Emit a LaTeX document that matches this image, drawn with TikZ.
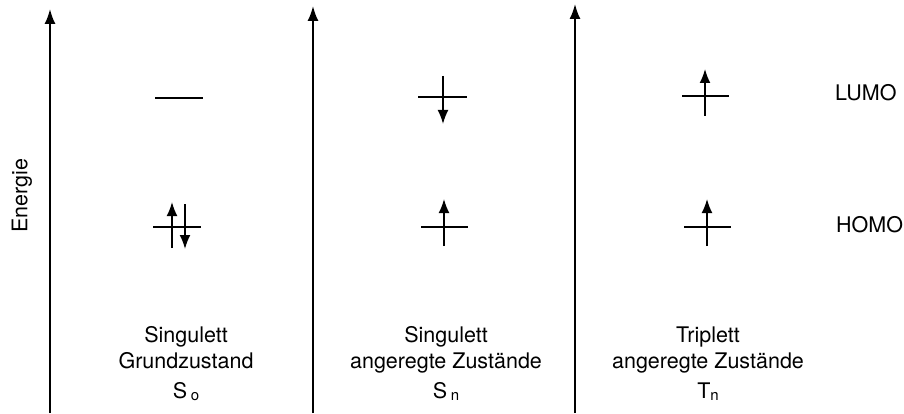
\documentclass[tikz,border=0pt]{standalone}
\usepackage{fontspec}
\setmainfont{TeX Gyre Heros}
\usetikzlibrary{arrows.meta}

\newcommand{\statesub}[1]{\raisebox{-2pt}{\fontsize{15}{15}\selectfont #1}}

\begin{document}
\begin{tikzpicture}[
  x=1pt, y=-1pt,
  every node/.style={inner sep=0pt, font=\fontsize{21.5}{26}\selectfont},
  axis/.style={draw, line width=1.8pt, -{Latex[length=15pt,width=11pt]}},
  level/.style={draw, line width=1.9pt},
  spin/.style={draw, line width=1.7pt, -{Latex[length=14pt,width=11pt]}}
]
\useasboundingbox (0,0) rectangle (904,414);

% energy axes
\coordinate (a1b) at (50,413);  \coordinate (a1t) at (50,9);
\coordinate (a2b) at (313,413); \coordinate (a2t) at (313,6);
\coordinate (a3b) at (575,413); \coordinate (a3t) at (575,4);
\draw[axis] (a1b) -- (a1t);
\draw[axis] (a2b) -- (a2t);
\draw[axis] (a3b) -- (a3t);
\node[rotate=90] (energie) at (22,196) {Energie};

% ground state S0
\draw[level] (155,98) coordinate (l1a) -- (203,98) coordinate (l1b);
\draw[level] (153,227) coordinate (h1a) -- (201,227) coordinate (h1b);
\coordinate (s1u) at (172,248); \coordinate (e1u) at (172,202);
\coordinate (s1d) at (185,204); \coordinate (e1d) at (185,249);
\draw[spin] (s1u) -- (e1u);
\draw[spin] (s1d) -- (e1d);

% singlet excited Sn
\draw[level] (418,97) coordinate (l2a) -- (467,97) coordinate (l2b);
\draw[level] (421,227) coordinate (h2a) -- (468,227) coordinate (h2b);
\coordinate (s2l) at (443,76);  \coordinate (e2l) at (443,124);
\coordinate (s2h) at (444,246); \coordinate (e2h) at (444,199);
\draw[spin] (s2l) -- (e2l);
\draw[spin] (s2h) -- (e2h);

% triplet excited Tn
\draw[level] (682,96) coordinate (l3a) -- (729,96) coordinate (l3b);
\draw[level] (684,227) coordinate (h3a) -- (731,227) coordinate (h3b);
\coordinate (s3l) at (705,116); \coordinate (e3l) at (705,69);
\coordinate (s3h) at (707,246); \coordinate (e3h) at (707,199);
\draw[spin] (s3l) -- (e3l);
\draw[spin] (s3h) -- (e3h);

% orbital labels
\node[anchor=base west] (lumo) at (835,101) {LUMO};
\node[anchor=base west] (homo) at (836,232) {HOMO};

% state labels
\node[anchor=base] (g1) at (186,342) {Singulett};
\node[anchor=base] (g2) at (186,368) {Grundzustand};
\node[anchor=base] (g3) at (186,398) {S\,\statesub{o}};

\node[anchor=base] (n1) at (446,342) {Singulett};
\node[anchor=base] (n2) at (446,368) {angeregte Zustände};
\node[anchor=base] (n3) at (446,398) {S\,\statesub{n}};

\node[anchor=base] (t1) at (708,342) {Triplett};
\node[anchor=base] (t2) at (708,368) {angeregte Zustände};
\node[anchor=base] (t3) at (708,398) {T\statesub{n}};
\end{tikzpicture}
\end{document}
